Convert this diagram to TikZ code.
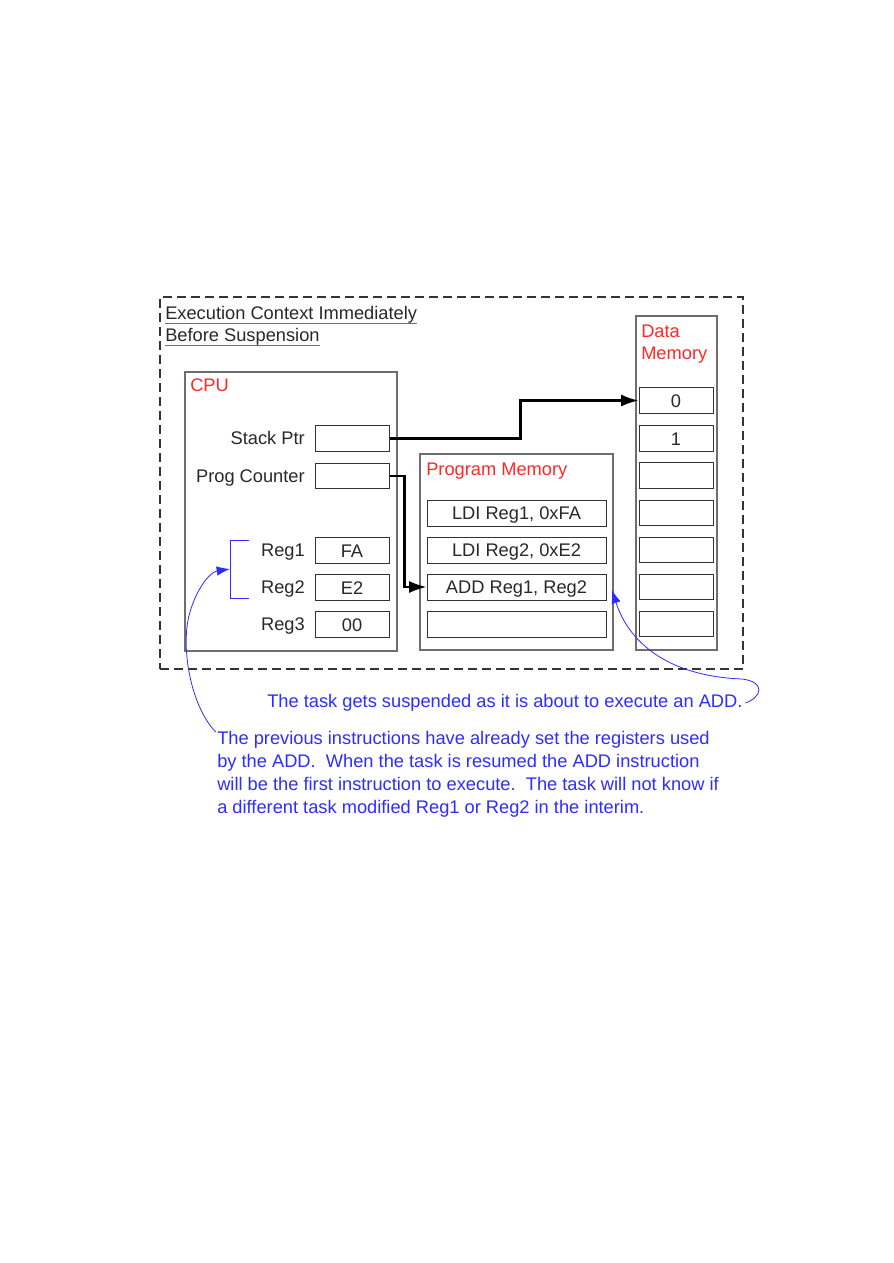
\documentclass[tikz,border=0pt]{standalone}
\usepackage{fontspec}
\setmainfont{Liberation Sans}
\usetikzlibrary{arrows.meta}
\definecolor{memred}{RGB}{255,40,40}
\definecolor{noteblue}{RGB}{45,45,255}
\definecolor{boxgray}{RGB}{110,110,110}
\definecolor{txt}{RGB}{40,40,40}
\begin{document}
\begin{tikzpicture}[x=0.75pt,y=-0.75pt,
  font=\fontsize{13.7}{17}\selectfont,
  container/.style={draw=boxgray, line width=0.8pt, inner sep=0pt},
  regbox/.style={draw=black!80, line width=0.75pt, minimum width=55.5pt, minimum height=19pt, inner sep=0pt, text height=9.8pt, text depth=0pt, text=txt},
  progslot/.style={regbox, minimum width=134.25pt, minimum height=19.5pt},
  label/.style={anchor=base east, inner sep=0pt, text=txt},
  title/.style={anchor=base west, inner sep=0pt, text=txt},
  redlabel/.style={anchor=base west, inner sep=0pt, text=memred},
  note/.style={anchor=base west, inner sep=0pt, text=noteblue},
  ptr/.style={line width=1.6pt, line join=miter, -{Latex[length=13pt,width=9pt]}},
  notearrow/.style={draw=noteblue, line width=0.6pt, -{Latex[length=10pt,width=7pt]}}
]
\useasboundingbox (0,0) rectangle (893,1263);

% outer dashed frame
\node[draw=black!80, line width=0.9pt, dash pattern=on 6.5pt off 4pt, minimum width=437.25pt, minimum height=279pt, inner sep=0pt] (ctx) at (451.5,483) {};
\node[title] (t1) at (165,319) {Execution Context Immediately};
\node[title] (t2) at (165,341) {Before Suspension};
\draw[boxgray, line width=0.75pt] ([yshift=-3pt]t1.base west) -- ([yshift=-3pt]t1.base east);
\draw[boxgray, line width=0.75pt] ([yshift=-3pt]t2.base west) -- ([yshift=-3pt]t2.base east);

% CPU
\node[container, minimum width=159pt, minimum height=209.25pt] (cpu) at (291,511.5) {};
\node[redlabel] (cpul) at (190,391) {CPU};
\node[regbox] (sp) at (352,438.5) {};
\node[regbox] (pc) at (352,476) {};
\node[regbox] (r1) at (352,550.5) {FA};
\node[regbox] (r2) at (352,587.5) {E2};
\node[regbox] (r3) at (352,624.5) {00};
\node[label] (spl) at (305,444) {Stack Ptr};
\node[label] (pcl) at (305,482) {Prog Counter};
\node[label] (r1l) at (305,556) {Reg1};
\node[label] (r2l) at (305,593) {Reg2};
\node[label] (r3l) at (305,630) {Reg3};
\coordinate (brtop) at (249,540);
\coordinate (brbot) at (249,598);
\coordinate (brmid) at (230,569);
\draw[noteblue, line width=0.75pt] (brtop) -- (230,540) -- (230,598) -- (brbot);

% Program memory
\node[container, minimum width=144.75pt, minimum height=147pt] (pm) at (516.5,552) {};
\node[redlabel] (pml) at (426,475) {Program Memory};
\node[progslot] (i1) at (516.5,513) {LDI Reg1, 0xFA};
\node[progslot] (i2) at (516.5,550) {LDI Reg2, 0xE2};
\node[progslot] (add) at (516.5,587) {ADD Reg1, Reg2};
\node[progslot] (i4) at (516.5,624) {};

% Data memory
\node[container, minimum width=60.75pt, minimum height=250.5pt] (dm) at (676.5,483) {};
\node[redlabel] (dml1) at (641,337) {Data};
\node[redlabel] (dml2) at (641,359) {Memory};
\node[regbox] (d0) at (676,400.5) {0};
\node[regbox] (d1) at (676,438.5) {1};
\node[regbox] (d2) at (676,475.5) {};
\node[regbox] (d3) at (676,513) {};
\node[regbox] (d4) at (676,550) {};
\node[regbox] (d5) at (676,587) {};
\node[regbox] (d6) at (676,624) {};

% pointers
\draw[ptr] (sp.east) -- ++(131,0) |- (d0.west);
\draw[ptr] (pc.east) -- ++(15,0) |- (add.west);

% notes
\node[note] (n1) at (267,707) {The task gets suspended as it is about to execute an ADD.};
\node[note] (n2a) at (217,744) {The previous instructions have already set the registers used};
\node[note] (n2b) at (217,767) {by the ADD.\ \ When the task is resumed the ADD instruction};
\node[note] (n2c) at (217,790) {will be the first instruction to execute.\ \ The task will not know if};
\node[note] (n2d) at (217,813) {a different task modified Reg1 or Reg2 in the interim.};

\draw[notearrow] ([xshift=2pt,yshift=3pt]n1.base east) .. controls (762,697) and (766,682) .. (742,679)
  .. controls (665,676) and (628,640) .. (612,590);
\draw[notearrow] ([xshift=-1pt,yshift=9pt]n2a.base west) .. controls (190,705) and (180,645) .. (190,612)
  .. controls (197,588) and (210,572) .. (brmid);
\end{tikzpicture}
\end{document}
